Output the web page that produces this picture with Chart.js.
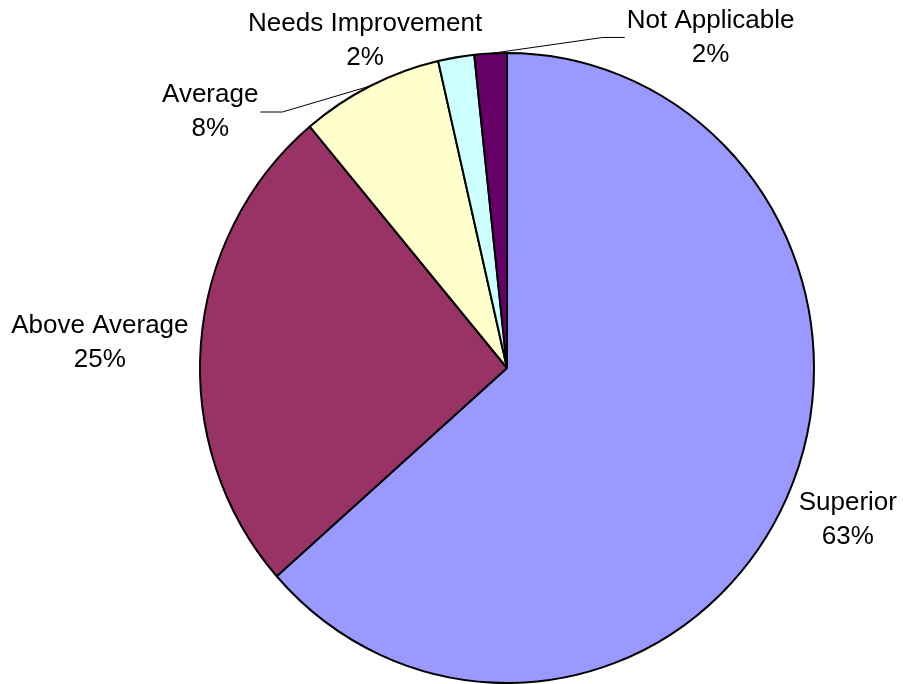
<!DOCTYPE html>
<html>
<head>
<meta charset="utf-8">
<script src="https://cdn.jsdelivr.net/npm/chart.js@4/dist/chart.umd.min.js"></script>
<style>
  html, body { margin: 0; padding: 0; background: #fff; }
</style>
</head>
<body>
<canvas id="pie" width="903" height="684"></canvas>
<script>
const categories = ["Superior", "Above Average", "Average", "Needs Improvement", "Not Applicable"];
const shares = [63.5, 25.4, 7.5, 1.9, 1.7];
const percentText = ["63%", "25%", "8%", "2%", "2%"];
const sliceColors = ["#9999FF", "#993366", "#FFFFCC", "#CCFFFF", "#660066"];

// label centre, measured from the middle of the slice's rim
const labelShift = [[61, 22], [-101, -1], [-160, 26], [-91, -17], [220, -16]];
const hasLeader = [false, false, true, false, true];
// the original pie is a little taller than wide
const yStretch = 1.026;

const stretchPie = {
  id: 'stretchPie',
  beforeDatasetsDraw(chart) {
    const arc = chart.getDatasetMeta(0).data[0];
    const ctx = chart.ctx;
    ctx.save();
    ctx.translate(arc.x, arc.y);
    ctx.scale(1, yStretch);
    ctx.translate(-arc.x, -arc.y);
  },
  afterDatasetsDraw(chart) {
    chart.ctx.restore();
  }
};

const pieLabels = {
  id: 'pieLabels',
  afterDraw(chart) {
    const ctx = chart.ctx;
    ctx.save();
    ctx.font = '26px "Liberation Sans", Arial, sans-serif';
    ctx.fillStyle = '#000';
    ctx.textAlign = 'center';
    ctx.textBaseline = 'middle';
    chart.getDatasetMeta(0).data.forEach((arc, i) => {
      const mid = (arc.startAngle + arc.endAngle) / 2;
      const ex = arc.x + Math.cos(mid) * arc.outerRadius;
      const ey = arc.y + Math.sin(mid) * arc.outerRadius * yStretch;
      const lx = ex + labelShift[i][0];
      const ly = ey + labelShift[i][1];
      ctx.fillText(categories[i], lx, ly - 17);
      ctx.fillText(percentText[i], lx, ly + 17);
      if (hasLeader[i]) {
        const half = ctx.measureText(categories[i]).width / 2 + 2;
        const side = ex > lx ? 1 : -1;
        const x0 = lx + side * half;
        ctx.beginPath();
        ctx.moveTo(x0, ly);
        ctx.lineTo(x0 + side * 22, ly);
        ctx.lineTo(ex, ey);
        ctx.lineWidth = 1;
        ctx.strokeStyle = '#000';
        ctx.stroke();
      }
    });
    ctx.restore();
  }
};

new Chart(document.getElementById('pie').getContext('2d'), {
  type: 'pie',
  data: {
    labels: categories,
    datasets: [{
      data: shares,
      backgroundColor: sliceColors,
      borderColor: '#000',
      borderWidth: 2
    }]
  },
  options: {
    responsive: false,
    animation: false,
    radius: 307,
    layout: { padding: { left: 111, right: 0, top: 52, bottom: 0 } },
    plugins: {
      legend: { display: false },
      tooltip: { enabled: false }
    }
  },
  plugins: [stretchPie, pieLabels]
});
</script>
</body>
</html>
